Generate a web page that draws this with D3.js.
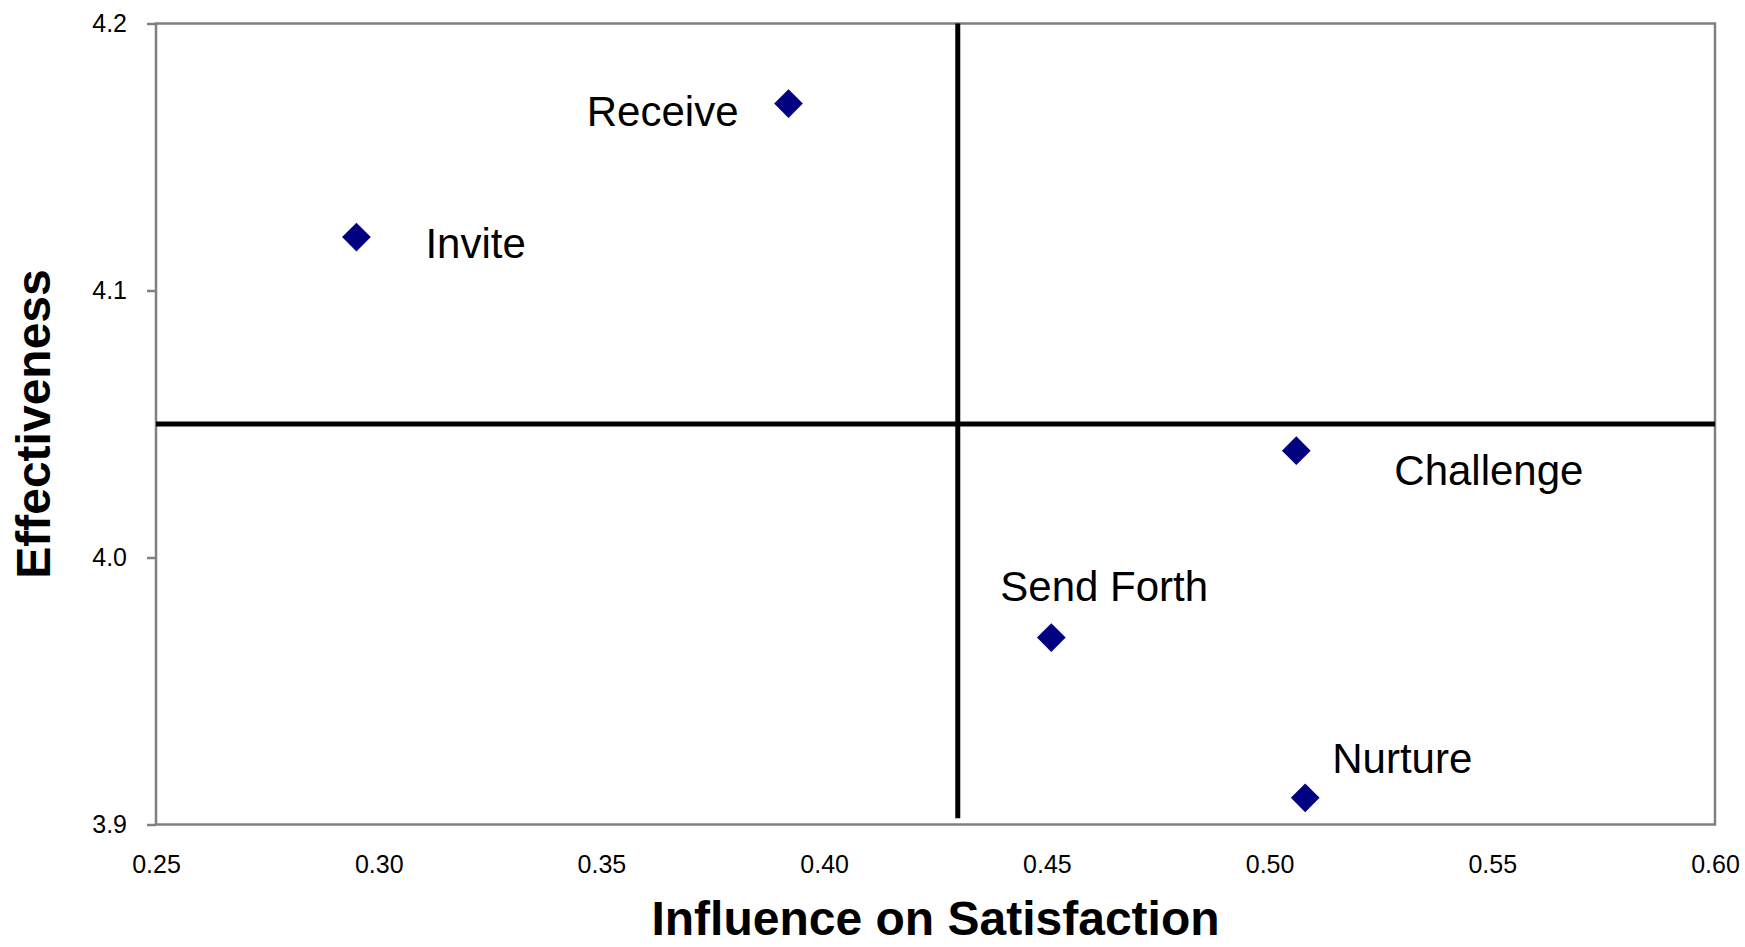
<!DOCTYPE html>
<html>
<head>
<meta charset="utf-8">
<script src="https://cdn.jsdelivr.net/npm/d3@7"></script>
<style>
  body { margin: 0; background: #fff; }
  svg { display: block; font-family: "Liberation Sans", Arial, sans-serif; }
</style>
</head>
<body>
<div id="chart"></div>
<script>
let width = 1745;
let height = 947;

// data
let names = ["Receive", "Invite", "Challenge", "Send Forth", "Nurture"];
let influence = [0.392, 0.295, 0.506, 0.451, 0.508];
let effectiveness = [4.17, 4.12, 4.04, 3.97, 3.91];

let xTicks = [0.25, 0.30, 0.35, 0.40, 0.45, 0.50, 0.55, 0.60];
let yTicks = [3.9, 4.0, 4.1, 4.2];

// quadrant dividers
let xSplit = 0.43;
let ySplit = 4.05;
let xSplitBottom = 3.9023; // vertical line stops just short of the axis

// label nudges in px (dx, dy, anchor) - layout only
let labelPos = [
    [-50, 22, "end"],
    [69, 21, "start"],
    [98, 34, "start"],
    [-51, -37, "start"],
    [27, -25, "start"]
];

let margin = {left: 156, right: 30, top: 23.5, bottom: 122.5};

let x = d3.scaleLinear()
    .domain([0.25, 0.60])
    .range([margin.left, width - margin.right]);
let y = d3.scaleLinear()
    .domain([3.9, 4.2])
    .range([height - margin.bottom, margin.top]);

let svg = d3.select("#chart")
    .append("svg")
    .attr("width", width)
    .attr("height", height)
    .attr("viewBox", `0 0 ${width} ${height}`);

// plot frame
svg.append("rect")
    .attr("x", x(0.25))
    .attr("y", y(4.2))
    .attr("width", x(0.60) - x(0.25))
    .attr("height", y(3.9) - y(4.2))
    .style("fill", "none")
    .style("stroke", "#808080")
    .style("stroke-width", "2.5px");

let xAxis = svg.append("g")
    .attr("transform", `translate(0,${y(3.9)})`)
    .call(d3.axisBottom(x).tickValues(xTicks).tickFormat(d3.format(".2f")).tickSize(0).tickPadding(31));
xAxis.select(".domain").remove();
xAxis.selectAll("text")
    .style("font-size", "25px")
    .style("fill", "#000");

let yAxis = svg.append("g")
    .attr("transform", `translate(${x(0.25)},0)`)
    .call(d3.axisLeft(y).tickValues(yTicks).tickFormat(d3.format(".1f")).tickSize(9).tickPadding(20));
yAxis.select(".domain").remove();
yAxis.selectAll("line")
    .style("stroke", "#808080")
    .style("stroke-width", "2.5px");
yAxis.selectAll("text")
    .style("font-size", "25px")
    .style("fill", "#000");

// quadrant lines
svg.append("line")
    .attr("x1", x(0.25))
    .attr("x2", x(0.60))
    .attr("y1", y(ySplit))
    .attr("y2", y(ySplit))
    .style("stroke", "#000")
    .style("stroke-width", "5px");
svg.append("line")
    .attr("x1", x(xSplit))
    .attr("x2", x(xSplit))
    .attr("y1", y(4.2))
    .attr("y2", y(xSplitBottom))
    .style("stroke", "#000")
    .style("stroke-width", "5px");

let pts = names.map((n, i) => ({name: n, x: influence[i], y: effectiveness[i], pos: labelPos[i]}));

svg.append("g")
    .selectAll("path")
    .data(pts)
    .enter()
    .append("path")
        .attr("d", d3.symbol().type(d3.symbolSquare).size(412))
        .attr("transform", d => `translate(${x(d.x)},${y(d.y)}) rotate(45)`)
        .style("fill", "#000080");

svg.append("g")
    .selectAll("text")
    .data(pts)
    .enter()
    .append("text")
        .attr("x", d => x(d.x) + d.pos[0])
        .attr("y", d => y(d.y) + d.pos[1])
        .attr("text-anchor", d => d.pos[2])
        .style("font-size", "42px")
        .style("fill", "#000")
        .text(d => d.name);

// axis titles
svg.append("text")
    .attr("x", (x(0.25) + x(0.60)) / 2)
    .attr("y", 935)
    .attr("text-anchor", "middle")
    .style("font-size", "48px")
    .style("font-weight", "bold")
    .text("Influence on Satisfaction");

svg.append("text")
    .attr("transform", `translate(50,${(y(3.9) + y(4.2)) / 2}) rotate(-90)`)
    .attr("text-anchor", "middle")
    .style("font-size", "48px")
    .style("font-weight", "bold")
    .text("Effectiveness");
</script>
</body>
</html>
